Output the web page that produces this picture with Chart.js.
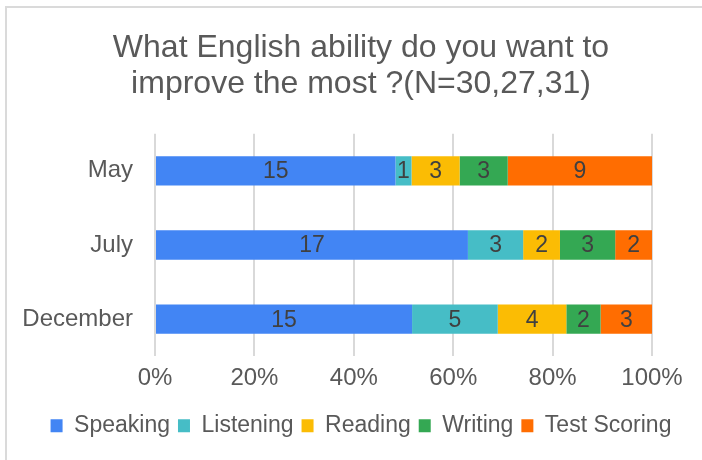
<!DOCTYPE html>
<html>
<head>
<meta charset="utf-8">
<script src="https://cdn.jsdelivr.net/npm/chart.js@4.4.1/dist/chart.umd.min.js"></script>
<style>
  html, body { margin: 0; padding: 0; background: #ffffff; overflow: hidden; }
  #wrap { position: relative; width: 702px; height: 460px; }
  #wrap canvas { position: absolute; left: 0; top: 0; }
  #frame { position: absolute; left: 5px; top: 6px; width: 720px; height: 480px;
           border: 2px solid #dadada; box-sizing: border-box; pointer-events: none; }
</style>
</head>
<body>
<div id="wrap">
  <canvas id="chart" width="702" height="460"></canvas>
  <div id="frame"></div>
</div>
<script>
// Survey answers per month (respondent counts)
const categories = ['May', 'July', 'December'];
const seriesNames = ['Speaking', 'Listening', 'Reading', 'Writing', 'Test Scoring'];
const speaking = [15, 17, 15];
const listening = [1, 3, 5];
const reading = [3, 2, 4];
const writing = [3, 3, 2];
const testScoring = [9, 2, 3];
const percentTicks = [0, 20, 40, 60, 80, 100];
const titleLines = ['What English ability do you want to', 'improve the most ?(N=30,27,31)'];
const seriesColors = ['#4285F4', '#46BDC6', '#FBBC04', '#34A853', '#FF6D01'];

const FONT = "'Liberation Sans', Arial, Helvetica, sans-serif";
const counts = [speaking, listening, reading, writing, testScoring];
const totals = categories.map((_, i) => counts.reduce((s, arr) => s + arr[i], 0));

// Each series is shown as a share of the month's total, labelled with its count
const datasets = seriesNames.map((name, k) => ({
  label: name,
  data: counts[k].map((v, i) => v / totals[i] * 100),
  counts: counts[k],
  backgroundColor: seriesColors[k],
  borderWidth: 0,
  barPercentage: 0.395,
  categoryPercentage: 1.0
}));

// Writes each segment's count in the middle of its bar
const countLabels = {
  id: 'countLabels',
  afterDatasetsDraw(chart) {
    const ctx = chart.ctx;
    ctx.save();
    ctx.font = '23px ' + FONT;
    ctx.fillStyle = '#404040';
    ctx.textAlign = 'center';
    ctx.textBaseline = 'middle';
    chart.data.datasets.forEach((ds, k) => {
      const meta = chart.getDatasetMeta(k);
      if (meta.hidden) return;
      meta.data.forEach((bar, i) => {
        const p = bar.getCenterPoint();
        ctx.fillText(String(ds.counts[i]), p.x, p.y + 1);
      });
    });
    ctx.restore();
  }
};

new Chart(document.getElementById('chart'), {
  type: 'bar',
  data: { labels: categories, datasets },
  plugins: [countLabels],
  options: {
    indexAxis: 'y',
    responsive: false,
    animation: false,
    devicePixelRatio: 1,
    layout: { padding: { left: 20, right: 0, top: 31, bottom: 12.75 } },
    scales: {
      x: {
        stacked: true,
        min: 0,
        max: 100,
        afterBuildTicks(scale) { scale.ticks = percentTicks.map(v => ({ value: v })); },
        afterFit(scale) { scale.height = 50; },
        grid: { color: '#d9d9d9', lineWidth: 2, drawTicks: false },
        border: { display: false },
        ticks: {
          padding: 8,
          color: '#595959',
          font: { family: FONT, size: 24 },
          callback: v => v + '%'
        }
      },
      y: {
        stacked: true,
        afterFit(scale) { scale.width = 135; },
        grid: { display: false, drawTicks: false },
        border: { display: false },
        ticks: {
          padding: 22,
          color: '#595959',
          font: { family: FONT, size: 24 }
        }
      },
      yRight: {
        type: 'linear',
        position: 'right',
        display: true,
        afterFit(scale) { scale.width = 50; },
        grid: { display: false, drawTicks: false },
        border: { display: false },
        ticks: { display: false }
      }
    },
    plugins: {
      title: {
        display: true,
        text: titleLines,
        color: '#595959',
        font: { family: FONT, size: 32, weight: 'normal', lineHeight: 1.1 },
        padding: { top: 0, bottom: 32.3 }
      },
      legend: {
        display: true,
        position: 'bottom',
        labels: {
          color: '#595959',
          font: { family: FONT, size: 23 },
          boxWidth: 12,
          boxHeight: 13,
          padding: 8
        }
      },
      tooltip: { enabled: false }
    }
  }
});
</script>
</body>
</html>
